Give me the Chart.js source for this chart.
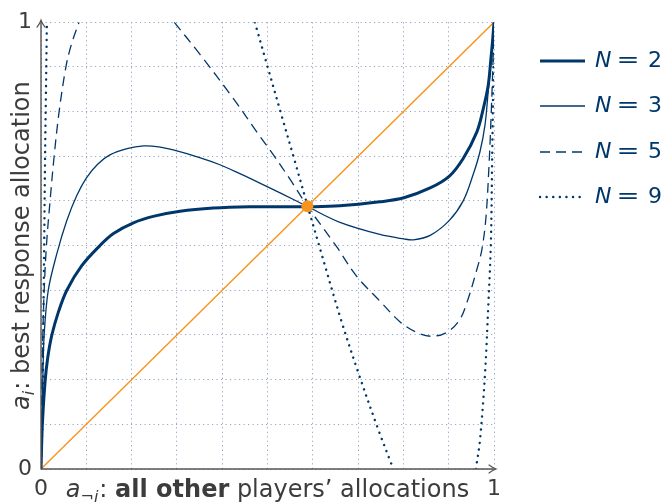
<!DOCTYPE html>
<html>
<head>
<meta charset="utf-8">
<script src="https://cdn.jsdelivr.net/npm/chart.js@4.4.1/dist/chart.umd.min.js"></script>
<style>
  html, body { margin: 0; padding: 0; background: #ffffff; }
  #wrap { width: 664px; height: 502px; position: relative; }
</style>
</head>
<body>
<div id="wrap"><canvas id="c" width="664" height="502"></canvas></div>
<script>
// Best-response curves a_i(a_¬i) for several group sizes N.
const n2X = [0, 0.003, 0.009, 0.015, 0.024, 0.038, 0.057, 0.09, 0.13, 0.16, 0.204, 0.25, 0.307, 0.38, 0.461, 0.53, 0.589, 0.66, 0.748, 0.801, 0.859, 0.901, 0.932, 0.962, 0.976, 0.987, 0.993, 0.997, 1];
const n2Y = [0, 0.1, 0.196, 0.25, 0.3, 0.35, 0.4, 0.455, 0.5, 0.527, 0.551, 0.566, 0.577, 0.584, 0.587, 0.587, 0.587, 0.589, 0.598, 0.607, 0.629, 0.655, 0.695, 0.754, 0.805, 0.857, 0.916, 0.96, 1];

const n3X = [0, 0.002, 0.004, 0.007, 0.016, 0.035, 0.057, 0.079, 0.1, 0.125, 0.152, 0.19, 0.226, 0.26, 0.292, 0.35, 0.395, 0.439, 0.483, 0.53, 0.589, 0.66, 0.748, 0.801, 0.822, 0.859, 0.901, 0.932, 0.954, 0.969, 0.98, 0.987, 0.993, 0.997, 1];
const n3Y = [0, 0.1, 0.2, 0.3, 0.4, 0.482, 0.556, 0.612, 0.651, 0.682, 0.703, 0.717, 0.723, 0.721, 0.714, 0.697, 0.681, 0.661, 0.640, 0.617, 0.587, 0.552, 0.525, 0.515, 0.513, 0.523, 0.556, 0.60, 0.659, 0.71, 0.769, 0.842, 0.91, 0.96, 1];

// N = 5 runs off the top of the plot between its two branches (null = gap)
const n5X = [0, 0.001, 0.002, 0.004, 0.007, 0.012, 0.02, 0.029, 0.04, 0.055, 0.067, 0.084, 0.19, 0.294, 0.351, 0.424, 0.483, 0.513, 0.55, 0.589, 0.653, 0.697, 0.748, 0.794, 0.831, 0.864, 0.896, 0.923, 0.94, 0.962, 0.973, 0.982, 0.989, 0.994, 0.998, 1];
const n5Y = [0, 0.1, 0.2, 0.3, 0.4, 0.5, 0.6, 0.7, 0.8, 0.9, 0.95, 1.0, null, 1.0, 0.928, 0.83, 0.745, 0.703, 0.648, 0.587, 0.497, 0.431, 0.376, 0.328, 0.305, 0.297, 0.306, 0.332, 0.372, 0.446, 0.49, 0.56, 0.68, 0.8, 0.92, 1];

// N = 9 runs off the plot at the top and at the bottom
const n9X = [0, 0.003, 0.005, 0.007, 0.009, 0.011, 0.013, 0.2, 0.472, 0.5, 0.53, 0.56, 0.589, 0.616, 0.662, 0.702, 0.745, 0.774, 0.778, 0.87, 0.96, 0.969, 0.98, 0.987, 0.993, 0.996, 0.999, 1];
const n9Y = [0, 0.1, 0.3, 0.5, 0.7, 0.85, 1.0, null, 1.0, 0.901, 0.795, 0.69, 0.587, 0.493, 0.335, 0.211, 0.087, 0.01, 0, null, 0, 0.064, 0.21, 0.357, 0.504, 0.7, 0.92, 1];

const diagX = [0, 1];
const diagY = [0, 1];
const fixedX = [0.588];
const fixedY = [0.588];

const seriesN = ['2', '3', '5', '9'];
const axisTicks = [0, 1];

const NAVY = '#00376b';
const ORANGE = '#f7941d';
const AXIS = '#555555';
const TEXT = '#3c3c3c';
const FONT = '"DejaVu Sans", "Liberation Sans", sans-serif';

function pts(xs, ys) {
  return xs.map((x, i) => ({ x: x, y: ys[i] }));
}

const curveStyles = [
  { borderWidth: 3, borderDash: [] },
  { borderWidth: 1.3, borderDash: [] },
  { borderWidth: 1.3, borderDash: [10, 6] },
  { borderWidth: 2.4, borderDash: [0.1, 6.5], borderCapStyle: 'round' }
];

// draws a run of text pieces with different fonts, starting at x (baseline y)
function drawRuns(ctx, runs, x, y) {
  let cx = x;
  runs.forEach(r => {
    ctx.font = r.font;
    ctx.fillText(r.text, cx, y + (r.dy || 0));
    cx += ctx.measureText(r.text).width + (r.after || 0);
  });
}
function runsWidth(ctx, runs) {
  let w = 0;
  runs.forEach(r => { ctx.font = r.font; w += ctx.measureText(r.text).width + (r.after || 0); });
  return w;
}

const decorations = {
  id: 'decorations',
  afterDraw(chart) {
    const ctx = chart.ctx;
    const xs = chart.scales.x, ys = chart.scales.y;
    const x0 = xs.getPixelForValue(0), x1 = xs.getPixelForValue(1);
    const y0 = ys.getPixelForValue(0), y1 = ys.getPixelForValue(1);
    ctx.save();

    // axes with arrow heads
    ctx.strokeStyle = AXIS;
    ctx.lineWidth = 1.4;
    ctx.lineCap = 'round';
    ctx.beginPath();
    ctx.moveTo(x0, y0); ctx.lineTo(x1 + 1, y0);
    ctx.moveTo(x0, y0); ctx.lineTo(x0, y1 - 1);
    ctx.stroke();
    ctx.lineWidth = 1.2;
    ctx.beginPath();
    ctx.moveTo(x1 - 5, y0 - 4); ctx.quadraticCurveTo(x1 - 1, y0 - 1, x1 + 2, y0);
    ctx.quadraticCurveTo(x1 - 1, y0 + 1, x1 - 5, y0 + 4);
    ctx.moveTo(x0 - 4, y1 + 5); ctx.quadraticCurveTo(x0 - 1, y1 + 1, x0, y1 - 2);
    ctx.quadraticCurveTo(x0 + 1, y1 + 1, x0 + 4, y1 + 5);
    ctx.stroke();

    // axis titles
    ctx.fillStyle = TEXT;
    ctx.textBaseline = 'alphabetic';
    const size = 24, sub = 16;
    const xRuns = [
      { text: 'a', font: `italic ${size}px ${FONT}` },
      { text: '¬', font: `${sub}px ${FONT}`, dy: 5 },
      { text: 'i', font: `italic ${sub}px ${FONT}`, dy: 5, after: 1 },
      { text: ': ', font: `${size}px ${FONT}` },
      { text: 'all other', font: `bold ${size}px ${FONT}` },
      { text: ' players’ allocations', font: `${size}px ${FONT}` }
    ];
    const xw = runsWidth(ctx, xRuns);
    drawRuns(ctx, xRuns, (x0 + x1) / 2 - xw / 2, 497);

    const yRuns = [
      { text: 'a', font: `italic ${size}px ${FONT}` },
      { text: 'i', font: `italic ${sub}px ${FONT}`, dy: 5, after: 1 },
      { text: ': best response allocation', font: `${size}px ${FONT}` }
    ];
    const yw = runsWidth(ctx, yRuns);
    ctx.save();
    ctx.translate(29, (y0 + y1) / 2);
    ctx.rotate(-Math.PI / 2);
    drawRuns(ctx, yRuns, -yw / 2, 0);
    ctx.restore();

    // legend: line sample, italic N, "=", group size
    const lx0 = 540, lx1 = 585;
    const rows = [61, 106, 152, 197];
    seriesN.forEach((n, i) => {
      const st = curveStyles[i];
      const yy = rows[i];
      ctx.strokeStyle = NAVY;
      ctx.lineWidth = st.borderWidth;
      ctx.lineCap = st.borderCapStyle || 'butt';
      ctx.setLineDash(st.borderDash);
      ctx.beginPath();
      ctx.moveTo(lx0, yy); ctx.lineTo(lx1, yy);
      ctx.stroke();
      ctx.setLineDash([]);
      ctx.fillStyle = NAVY;
      ctx.textBaseline = 'middle';
      ctx.textAlign = 'left';
      ctx.font = `italic 22px ${FONT}`;
      ctx.fillText('N', 595, yy);
      ctx.save();
      ctx.textAlign = 'center';
      ctx.translate(628, yy);
      ctx.scale(1.25, 1);
      ctx.font = `22px ${FONT}`;
      ctx.fillText('=', 0, 0);
      ctx.restore();
      ctx.textAlign = 'left';
      ctx.font = `22px ${FONT}`;
      ctx.fillText(n, 648, yy);
    });
    ctx.restore();
  }
};

const tickCb = v => {
  const hit = axisTicks.find(t => Math.abs(v - t) < 1e-9);
  return hit === undefined ? '' : String(hit);
};

const gridOpts = { color: '#97a5c6', lineWidth: 1, drawTicks: false };
const borderOpts = { display: false, dash: [1.2, 3.3] };

new Chart(document.getElementById('c'), {
  type: 'line',
  data: {
    datasets: [
      { label: 'fixed', data: pts(fixedX, fixedY), showLine: false, pointRadius: 6, pointBackgroundColor: ORANGE, pointBorderWidth: 0, order: 0 },
      { label: 'N = ' + seriesN[0], data: pts(n2X, n2Y), borderColor: NAVY, order: 1, ...curveStyles[0] },
      { label: 'N = ' + seriesN[1], data: pts(n3X, n3Y), borderColor: NAVY, order: 2, ...curveStyles[1] },
      { label: 'N = ' + seriesN[2], data: pts(n5X, n5Y), borderColor: NAVY, order: 3, ...curveStyles[2] },
      { label: 'N = ' + seriesN[3], data: pts(n9X, n9Y), borderColor: NAVY, order: 4, ...curveStyles[3] },
      { label: 'diagonal', data: pts(diagX, diagY), borderColor: ORANGE, borderWidth: 1.4, order: 5, tension: 0 }
    ]
  },
  options: {
    responsive: false,
    animation: false,
    events: [],
    spanGaps: false,
    elements: {
      point: { radius: 0 },
      line: { tension: 0.35, fill: false }
    },
    layout: { padding: { left: 0, right: 170, top: 15, bottom: 0 } },
    plugins: { legend: { display: false }, tooltip: { enabled: false } },
    scales: {
      x: {
        type: 'linear', min: 0, max: 1,
        grid: gridOpts, border: borderOpts,
        afterFit: s => { s.height = 33; },
        ticks: { stepSize: 0.1, autoSkip: false, maxRotation: 0, padding: 7, color: TEXT,
                 font: { family: FONT, size: 22 }, callback: tickCb }
      },
      y: {
        type: 'linear', min: 0, max: 1,
        grid: gridOpts, border: borderOpts,
        afterFit: s => { s.width = 41; },
        ticks: { stepSize: 0.1, autoSkip: false, padding: 9, color: TEXT,
                 font: { family: FONT, size: 22 }, callback: tickCb }
      }
    }
  },
  plugins: [decorations]
});
</script>
</body>
</html>
